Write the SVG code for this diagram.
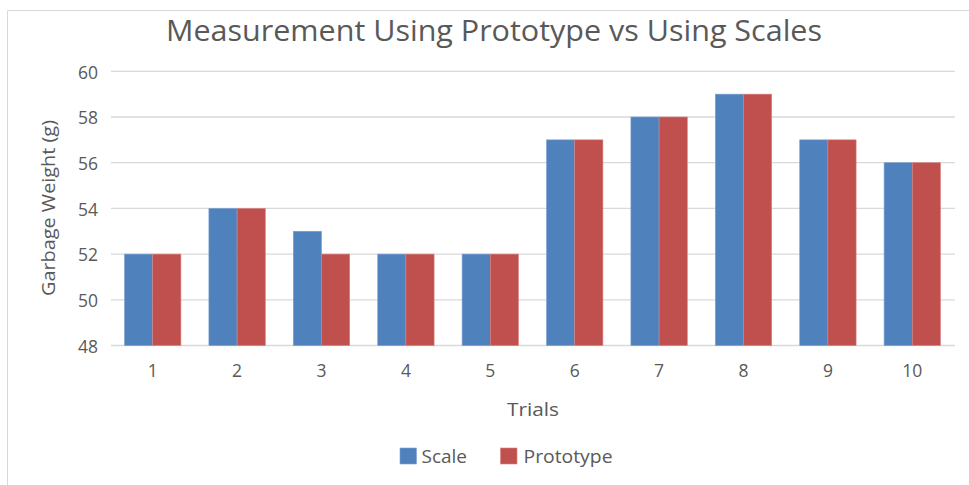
<svg xmlns="http://www.w3.org/2000/svg" width="969" height="485" viewBox="0 0 969 485">
<style>
text{font-family:"Open Sans","Noto Sans","Liberation Sans",sans-serif;fill:#595959}
.tick{font-size:17.5px}
.grid{stroke:#d9d9d9;stroke-width:1.3}
.s{fill:#4f81bd;stroke:#7da1d1;stroke-width:0.6}
.p{fill:#c0504d;stroke:#d88381;stroke-width:0.6}
</style>
<rect x="0" y="0" width="969" height="485" fill="#fff"/>
<path d="M7.5 485V10.5H975" fill="none" stroke="#d9d9d9" stroke-width="1"/>
<text x="494" y="41" font-size="28.5" text-anchor="middle" textLength="656" lengthAdjust="spacingAndGlyphs">Measurement Using Prototype vs Using Scales</text>
<g id="gridlines">
<line class="grid" x1="111" x2="955" y1="71.3" y2="71.3"/>
<line class="grid" x1="111" x2="955" y1="117" y2="117"/>
<line class="grid" x1="111" x2="955" y1="162.7" y2="162.7"/>
<line class="grid" x1="111" x2="955" y1="208.4" y2="208.4"/>
<line class="grid" x1="111" x2="955" y1="254.1" y2="254.1"/>
<line class="grid" x1="111" x2="955" y1="299.8" y2="299.8"/>
<line class="grid" x1="111" x2="955" y1="345.5" y2="345.5"/>
</g>
<g id="y-ticks" text-anchor="end">
<text class="tick" x="98" y="78.5">60</text>
<text class="tick" x="98" y="124.2">58</text>
<text class="tick" x="98" y="169.9">56</text>
<text class="tick" x="98" y="215.6">54</text>
<text class="tick" x="98" y="261.3">52</text>
<text class="tick" x="98" y="307">50</text>
<text class="tick" x="98" y="352.7">48</text>
</g>
<text x="0" y="0" font-size="17.5" text-anchor="middle" textLength="176" lengthAdjust="spacingAndGlyphs" transform="translate(54.5,208) rotate(-90)">Garbage Weight (g)</text>
<g id="bars">
<rect class="s" x="124.5" y="254.1" width="28.2" height="91.4"/>
<rect class="p" x="152.7" y="254.1" width="28.2" height="91.4"/>
<rect class="s" x="208.9" y="208.4" width="28.2" height="137.1"/>
<rect class="p" x="237.1" y="208.4" width="28.2" height="137.1"/>
<rect class="s" x="293.3" y="231.25" width="28.2" height="114.25"/>
<rect class="p" x="321.5" y="254.1" width="28.2" height="91.4"/>
<rect class="s" x="377.7" y="254.1" width="28.2" height="91.4"/>
<rect class="p" x="405.9" y="254.1" width="28.2" height="91.4"/>
<rect class="s" x="462.1" y="254.1" width="28.2" height="91.4"/>
<rect class="p" x="490.3" y="254.1" width="28.2" height="91.4"/>
<rect class="s" x="546.5" y="139.85" width="28.2" height="205.65"/>
<rect class="p" x="574.7" y="139.85" width="28.2" height="205.65"/>
<rect class="s" x="630.9" y="117" width="28.2" height="228.5"/>
<rect class="p" x="659.1" y="117" width="28.2" height="228.5"/>
<rect class="s" x="715.3" y="94.15" width="28.2" height="251.35"/>
<rect class="p" x="743.5" y="94.15" width="28.2" height="251.35"/>
<rect class="s" x="799.7" y="139.85" width="28.2" height="205.65"/>
<rect class="p" x="827.9" y="139.85" width="28.2" height="205.65"/>
<rect class="s" x="884.1" y="162.7" width="28.2" height="182.8"/>
<rect class="p" x="912.3" y="162.7" width="28.2" height="182.8"/>
</g>
<g id="x-ticks" text-anchor="middle">
<text class="tick" x="152.7" y="377">1</text>
<text class="tick" x="237.1" y="377">2</text>
<text class="tick" x="321.5" y="377">3</text>
<text class="tick" x="405.9" y="377">4</text>
<text class="tick" x="490.3" y="377">5</text>
<text class="tick" x="574.7" y="377">6</text>
<text class="tick" x="659.1" y="377">7</text>
<text class="tick" x="743.5" y="377">8</text>
<text class="tick" x="827.9" y="377">9</text>
<text class="tick" x="912.3" y="377">10</text>
</g>
<text x="533" y="416" font-size="18" text-anchor="middle" textLength="52" lengthAdjust="spacingAndGlyphs">Trials</text>
<g id="legend">
<rect class="s" x="400" y="448" width="16.5" height="16"/>
<text class="tick" x="421.5" y="463" textLength="45.5" lengthAdjust="spacingAndGlyphs">Scale</text>
<rect class="p" x="500.5" y="448" width="16.5" height="16"/>
<text class="tick" x="523.5" y="463" textLength="89" lengthAdjust="spacingAndGlyphs">Prototype</text>
</g>
</svg>
